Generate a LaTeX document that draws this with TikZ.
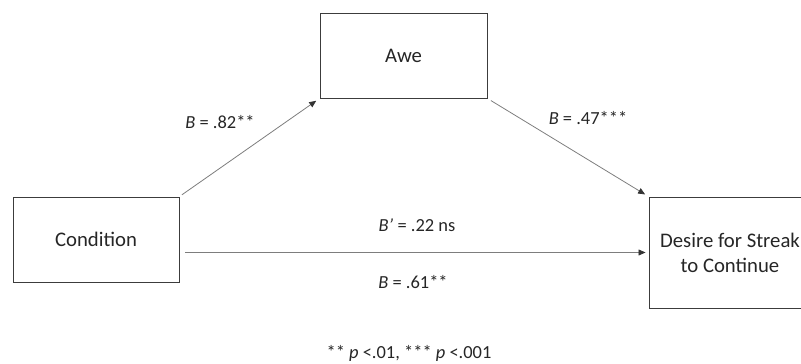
\documentclass[tikz,border=0pt]{standalone}
\usepackage{fontspec}
\setmainfont{Carlito}
\usetikzlibrary{arrows.meta, positioning}
\usepackage{xcolor}

\definecolor{boxline}{RGB}{60,60,60}
\definecolor{pathline}{RGB}{125,125,125}

\begin{document}
\begin{tikzpicture}[
        x=0.02cm, y=-0.02cm,
        every node/.style={font=\fontsize{10.5}{12.6}\selectfont, text=black!85},
        var/.style={
            rectangle,
            draw=boxline,
            line width=0.55pt,
            align=center,
            minimum width=3.32cm,
            minimum height=1.7cm,
            font=\fontsize{11.8}{14.2}\selectfont
        },
        arrow/.style={
            -{Triangle[length=4pt,width=3.4pt,color=black!80]},
            draw=pathline,
            line width=0.45pt
        }
    ]

    \useasboundingbox (0,0) rectangle (801,364);

    % Variables
    \node[var] (cond) at (96,239.5) {Condition};
    \node[var, minimum width=3.34cm] (awe) at (403.5,55.5) {Awe};
    \node[var, minimum width=3.24cm, minimum height=2.22cm] (desire) at (730,252.5)
        {Desire for Streak\\
         to Continue};

    % a path
    \draw[arrow, shorten <=0.06cm, shorten >=0.08cm] (cond.north east) -- (awe.south west);
    \node (pathA) at (220,122) {\textit{B} = .82**};

    % b path
    \draw[arrow, shorten <=0.08cm, shorten >=0.08cm] (awe.south east) -- (desire.north west);
    \node (pathB) at (588,118) {\textit{B} = .47***};

    % c and c' paths
    \draw[arrow, shorten <=0.12cm, shorten >=0.06cm] (cond.east |- desire.west) -- (desire.west);
    \node (pathCd) at (417,225) {\textit{B’} = .22 ns};
    \node (pathC) at (413,282) {\textit{B} = .61**};

    % Note
    \node (note) at (409,353) {** \textit{p} <.01, *** \textit{p} <.001};

\end{tikzpicture}
\end{document}
